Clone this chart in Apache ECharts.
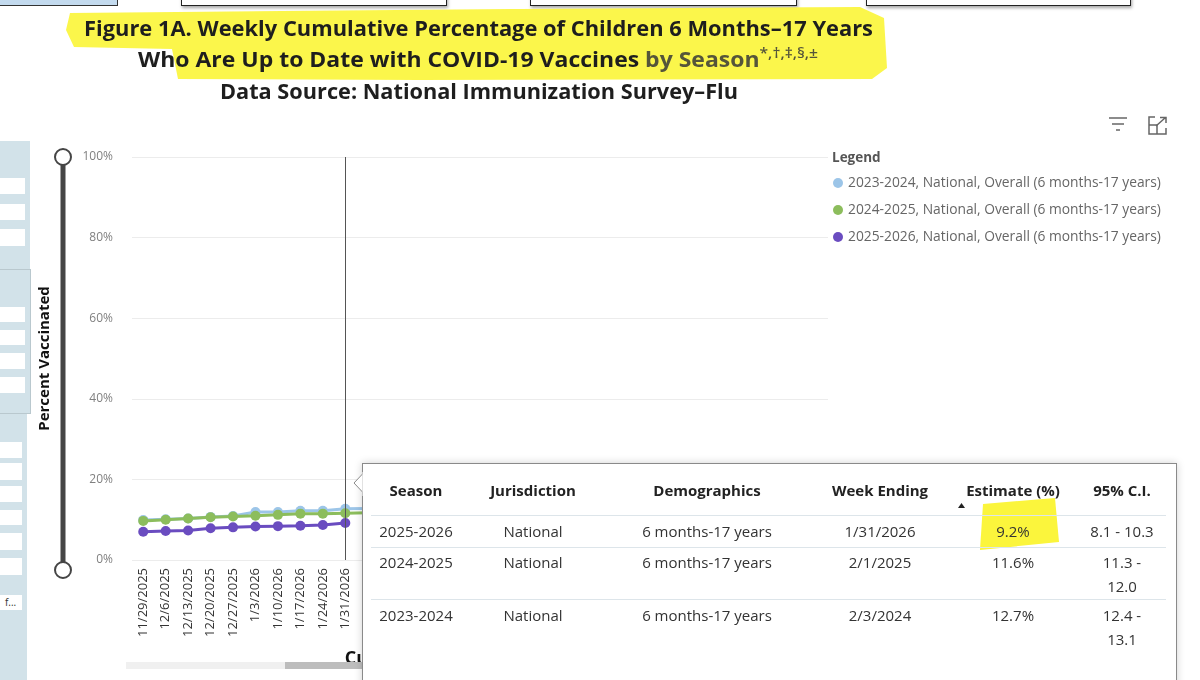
<!DOCTYPE html>
<html><head><meta charset="utf-8">
<script src="https://cdn.jsdelivr.net/npm/echarts@6/dist/echarts.min.js"></script>
<style>
html,body{margin:0;padding:0;width:1200px;height:680px;overflow:hidden;background:#fff;font-family:'Open Sans','Noto Sans',sans-serif;}
#chart{position:absolute;left:0;top:0;width:1200px;height:680px;z-index:0;}
.abs{position:absolute;}
.ttl{position:absolute;white-space:nowrap;font-family:'Open Sans','Noto Sans',sans-serif;font-weight:700;font-size:22px;line-height:26px;color:#1e1e1e;transform-origin:0 50%;z-index:3;}
.ttl sup{font-size:15px;vertical-align:top;line-height:14px;font-weight:600;}
.pan{position:absolute;background:#d2e2e9;}
.wr{position:absolute;background:#fff;left:0;}
#tip{position:absolute;left:362px;top:463px;width:813px;height:240px;background:#fff;border:1px solid #8a8a8a;box-shadow:0 0 8px rgba(0,0,0,0.18);z-index:6;}
.cell{position:absolute;white-space:nowrap;font-size:15px;color:#333;transform:translateX(-50%);text-align:center;line-height:24px;}
.hd{font-weight:bold;color:#222;}
.sep{position:absolute;height:1px;background:#dde5ea;left:8px;width:795px;}
</style></head><body>
<div id="chart"></div>

<!-- top boxes -->
<div class="abs" style="left:-2px;top:-10px;width:118px;height:14px;background:#c3daee;border:1px solid #333;"></div>
<div class="abs" style="left:181px;top:-10px;width:264px;height:14px;background:#fff;border:1px solid #222;box-shadow:1px 2px 3px rgba(0,0,0,.35);"></div>
<div class="abs" style="left:530px;top:-10px;width:265px;height:14px;background:#fff;border:1px solid #222;box-shadow:1px 2px 3px rgba(0,0,0,.35);"></div>
<div class="abs" style="left:866px;top:-10px;width:263px;height:14px;background:#fff;border:1px solid #222;box-shadow:1px 2px 3px rgba(0,0,0,.35);"></div>

<!-- decorations -->
<svg class="abs" style="left:0;top:0;z-index:2" width="1200" height="680">
  <path d="M70,13 L520,9 L860,7 L884,18 L887,68 L872,79 L420,80 L178,79 L172,49 L74,47 L66,30 Z" fill="#fbf53c" opacity="0.92"/>
  <!-- y range slider -->
  <line x1="63" y1="157" x2="63" y2="570" stroke="#454545" stroke-width="5"/>
  <circle cx="63" cy="157" r="8" fill="#fff" stroke="#454545" stroke-width="2"/>
  <circle cx="63" cy="570" r="8" fill="#fff" stroke="#454545" stroke-width="2"/>
  <!-- x scrollbar -->
  <rect x="126" y="662" width="159" height="7" fill="#f0f0f0"/>
  <rect x="285" y="662" width="80" height="7" fill="#bdbdbd"/>
  <!-- icons -->
  <g stroke="#666" stroke-width="1.5" fill="none">
    <line x1="1109" y1="118" x2="1127" y2="118"/>
    <line x1="1112" y1="124" x2="1124" y2="124"/>
    <line x1="1116" y1="130" x2="1120" y2="130"/>
    <path d="M1155,117 L1149,117 L1149,134 L1166,134 L1166,128"/>
    <path d="M1149,125 L1157,125 L1157,134"/>
    <path d="M1156,126 L1165,118 M1160,117.5 L1166,117.5 L1166,123"/>
  </g>
</svg>

<!-- title -->
<div class="ttl" id="t1" data-l="84" data-w="789" style="top:14px;">Figure 1A. Weekly Cumulative Percentage of Children 6 Months–17 Years</div>
<div class="ttl" id="t2" data-l="138" data-w="680" style="top:45px;">Who Are Up to Date with COVID-19 Vaccines <span style="color:#55553a">by Season<sup>*,†,‡,§,±</sup></span></div>
<div class="ttl" id="t3" data-l="220" data-w="518" style="top:77px;">Data Source: National Immunization Survey–Flu</div>

<!-- left panels -->
<div class="pan" style="left:0;top:141px;width:30px;height:128px;"></div>
<div class="wr" style="top:178px;width:25px;height:16px;"></div>
<div class="wr" style="top:204px;width:25px;height:16px;"></div>
<div class="wr" style="top:229px;width:25px;height:17px;"></div>
<div class="pan" style="left:0;top:269px;width:30px;height:143px;border:1px solid #b9c8ce;border-left:none;"></div>
<div class="wr" style="top:307px;width:25px;height:15px;"></div>
<div class="wr" style="top:330px;width:25px;height:15px;"></div>
<div class="wr" style="top:353px;width:25px;height:16px;"></div>
<div class="wr" style="top:377px;width:25px;height:16px;"></div>
<div class="pan" style="left:0;top:414px;width:27px;height:266px;"></div>
<div class="wr" style="top:442px;width:22px;height:16px;"></div>
<div class="wr" style="top:463px;width:22px;height:17px;"></div>
<div class="wr" style="top:486px;width:22px;height:16px;"></div>
<div class="wr" style="top:510px;width:22px;height:15px;"></div>
<div class="wr" style="top:533px;width:22px;height:17px;"></div>
<div class="wr" style="top:558px;width:22px;height:17px;"></div>
<div class="wr" style="top:595px;width:22px;height:15px;font-size:10px;line-height:15px;color:#333;text-indent:5px;">f...</div>

<!-- tooltip -->
<div id="tip"></div>
<svg class="abs" style="left:350px;top:472px;z-index:7" width="16" height="24">
  <path d="M12.5,2 L4,11 L12.5,20" fill="#fff" stroke="#8a8a8a" stroke-width="1"/>
  <rect x="12.5" y="0" width="4" height="24" fill="#fff"/>
</svg>

<script>
// ---- chart data ----
const categories = ['11/29/2025','12/6/2025','12/13/2025','12/20/2025','12/27/2025','1/3/2026','1/10/2026','1/17/2026','1/24/2026','1/31/2026',
  '2/7/2026','2/14/2026','2/21/2026','2/28/2026','3/7/2026','3/14/2026','3/21/2026','3/28/2026','4/4/2026','4/11/2026','4/18/2026',
  '4/25/2026','5/2/2026','5/9/2026','5/16/2026','5/23/2026','5/30/2026','6/6/2026','6/13/2026','6/20/2026','6/27/2026'];
const season2324 = [9.9, 10.1, 10.3, 10.7, 10.9, 11.9, 11.9, 12.2, 12.2, 12.7, 12.8];
const season2425 = [9.7, 10.0, 10.3, 10.6, 10.8, 11.0, 11.2, 11.5, 11.5, 11.6, 11.7];
const season2526 = [7.0, 7.2, 7.3, 7.9, 8.1, 8.3, 8.4, 8.5, 8.7, 9.2];
const seriesNames = ['2023-2024, National, Overall (6 months-17 years)','2024-2025, National, Overall (6 months-17 years)','2025-2026, National, Overall (6 months-17 years)'];
const seriesColors = ['#9cc5e8','#8cbd5c','#6a4cc0'];
const yTickValues = [0,20,40,60,80,100];
const hoverWeek = '1/31/2026';

// ---- tooltip table data ----
const tableHeaders = ['Season','Jurisdiction','Demographics','Week Ending','Estimate (%)','95% C.I.'];
const tableSeason = ['2025-2026','2024-2025','2023-2024'];
const tableJurisdiction = ['National','National','National'];
const tableDemographics = ['6 months-17 years','6 months-17 years','6 months-17 years'];
const tableWeekEnding = ['1/31/2026','2/1/2025','2/3/2024'];
const tableEstimate = ['9.2%','11.6%','12.7%'];
const tableCI = [['8.1 - 10.3'],['11.3 -','12.0'],['12.4 -','13.1']];

// fit title lines
document.querySelectorAll('.ttl').forEach(el=>{
  const l=+el.dataset.l, w=+el.dataset.w;
  el.style.left=l+'px';
  const mw=el.getBoundingClientRect().width;
  el.style.transform='scaleX('+(w/mw)+')';
});

// build tooltip table
(function(){
  const tip=document.getElementById('tip');
  const colX=[416,533,707,880,1013,1122].map(x=>x-363);
  const hdY=490-463, rowY=[531-463,562-463,615-463];
  let html='';
  html+='<svg style="position:absolute;left:0;top:0" width="813" height="240"><path d="M620,40 L692,34 L696,78 L617,86 Z" fill="#fbf53c"/>'+
        '<path d="M595,44 L602,44 L598.5,39 Z" fill="#222"/></svg>';
  tableHeaders.forEach((h,i)=>{html+='<div class="cell hd" style="left:'+colX[i]+'px;top:'+(hdY-13)+'px">'+h+'</div>';});
  html+='<div class="sep" style="top:'+(514-463)+'px"></div>';
  html+='<div class="sep" style="top:'+(546-463)+'px"></div>';
  html+='<div class="sep" style="top:'+(598-463)+'px"></div>';
  for(let r=0;r<3;r++){
    const vals=[tableSeason[r],tableJurisdiction[r],tableDemographics[r],tableWeekEnding[r],tableEstimate[r]];
    vals.forEach((v,i)=>{html+='<div class="cell" style="left:'+colX[i]+'px;top:'+(rowY[r]-13)+'px">'+v+'</div>';});
    html+='<div class="cell" style="left:'+colX[5]+'px;top:'+(rowY[r]-13)+'px">'+tableCI[r].join('<br>')+'</div>';
  }
  tip.innerHTML=html;
})();

const chart = echarts.init(document.getElementById('chart'), null, {renderer:'canvas'});
const dataSets=[season2324,season2425,season2526];
const series = dataSets.map((d,i)=>{
  const s={
    name:seriesNames[i], type:'line', data:d, symbol:'circle', symbolSize:10, showSymbol:true,
    lineStyle:{width:3,color:seriesColors[i]}, itemStyle:{color:seriesColors[i]}, z:2+i, animation:false
  };
  if(i===2){
    s.markLine={silent:true,symbol:'none',label:{show:false},lineStyle:{color:'#555',width:1,type:'solid'},data:[{xAxis:hoverWeek}],animation:false};
  }
  return s;
});
chart.setOption({
  animation:false,
  textStyle:{fontFamily:"'Open Sans','Noto Sans',sans-serif"},
  grid:{left:132,right:372,top:157,bottom:120,containLabel:false},
  legend:{
    orient:'vertical', left:828, top:171, itemGap:13, itemWidth:10, itemHeight:10, icon:'circle',
    textStyle:{color:'#666',fontSize:13.8}, data:seriesNames, selectedMode:false
  },
  graphic:[{type:'text',left:832,top:151,style:{text:'Legend',fill:'#555',font:"bold 13.5px 'Open Sans',sans-serif"}}],
  xAxis:{
    type:'category', data:categories, boundaryGap:true,
    name:'Cumulative Week Ending Date', nameLocation:'middle', nameGap:90,
    nameTextStyle:{color:'#111',fontWeight:'bold',fontSize:18},
    axisLine:{show:false}, axisTick:{show:false},
    axisLabel:{rotate:90,color:'#333',fontSize:13,margin:8,interval:0}
  },
  yAxis:{
    type:'value', min:yTickValues[0], max:yTickValues[yTickValues.length-1], interval:20,
    name:'Percent Vaccinated', nameLocation:'middle', nameRotate:90, nameGap:80,
    nameTextStyle:{color:'#111',fontWeight:'bold',fontSize:15},
    axisLine:{show:false}, axisTick:{show:false},
    axisLabel:{color:'#808080',fontSize:12,margin:19,formatter:'{value}%'},
    splitLine:{lineStyle:{color:'#ececec',width:1}}
  },
  series:series
});
</script>
</body></html>
